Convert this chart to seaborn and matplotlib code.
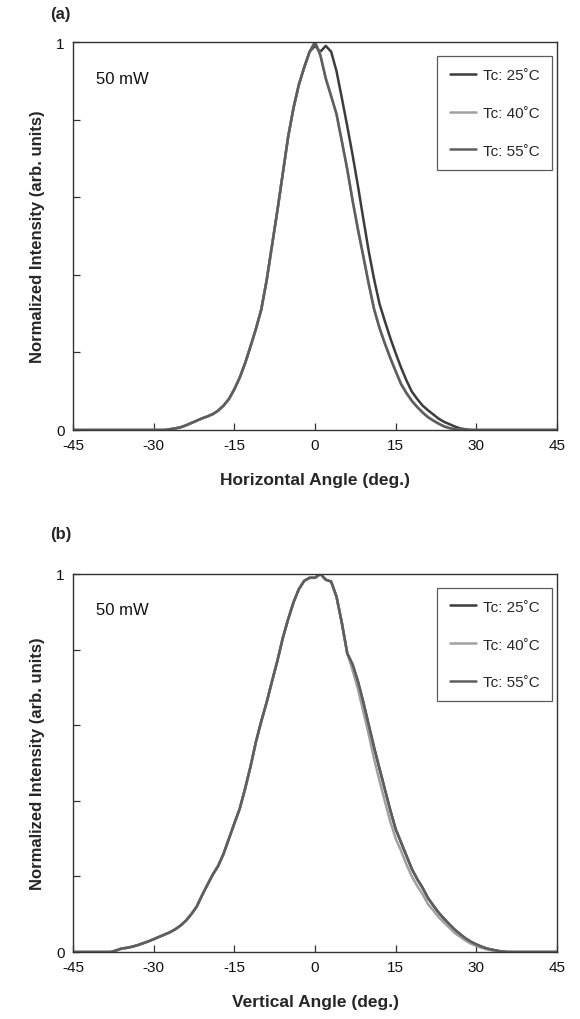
import numpy as np
import pandas as pd
import matplotlib
matplotlib.use("Agg")
import matplotlib.pyplot as plt
import seaborn as sns

# ---------------- data ----------------
angles = list(range(-45, 46))  # degrees, 1-degree steps

zeros = lambda n: [0.0] * n

# Panel (a): horizontal far-field, left side shared by all three curves
h_left = [0.0, 0.002, 0.004, 0.007, 0.012, 0.018, 0.024, 0.030, 0.035, 0.041,
          0.050, 0.063, 0.080, 0.105, 0.135, 0.172, 0.215, 0.260, 0.310, 0.385,
          0.475, 0.565, 0.660, 0.755, 0.830, 0.890, 0.935, 0.975]          # -28 .. -1
h25_right = [0.990, 0.975, 0.990, 0.975, 0.925, 0.855, 0.783, 0.708, 0.628, 0.543,
             0.460, 0.388, 0.325, 0.280, 0.237, 0.198, 0.161, 0.128, 0.099, 0.080,
             0.063, 0.051, 0.040, 0.029, 0.021, 0.015, 0.009, 0.004, 0.002, 0.0]  # 0 .. 29
h40_right = [1.000, 0.968, 0.908, 0.862, 0.812, 0.745, 0.673, 0.592, 0.518, 0.448,
             0.378, 0.312, 0.264, 0.224, 0.187, 0.152, 0.120, 0.096, 0.076, 0.060,
             0.046, 0.034, 0.025, 0.017, 0.010, 0.005, 0.002, 0.0, 0.0, 0.0]      # 0 .. 29
h55_right = [1.000, 0.965, 0.905, 0.860, 0.815, 0.743, 0.671, 0.590, 0.515, 0.446,
             0.375, 0.310, 0.262, 0.222, 0.185, 0.151, 0.118, 0.095, 0.075, 0.059,
             0.045, 0.033, 0.024, 0.016, 0.009, 0.005, 0.002, 0.0, 0.0, 0.0]      # 0 .. 29

h25 = zeros(17) + h_left + h25_right + zeros(16)
h40 = zeros(17) + h_left + h40_right + zeros(16)
h55 = zeros(17) + h_left + h55_right + zeros(16)

# Panel (b): vertical far-field
v_left = [0.0, 0.004, 0.009, 0.011, 0.014, 0.018, 0.023, 0.028, 0.034, 0.040,
          0.046, 0.052, 0.060, 0.070, 0.083, 0.100, 0.120, 0.150, 0.178, 0.205,
          0.228, 0.260, 0.300, 0.340, 0.379, 0.432, 0.490, 0.555, 0.610, 0.660,
          0.716, 0.770, 0.830, 0.880, 0.925, 0.960, 0.982, 0.990]           # -38 .. -1
v_inner = [0.990, 1.000, 0.985, 0.980, 0.940, 0.870, 0.790, 0.745, 0.695, 0.635,
           0.575, 0.510, 0.453, 0.398, 0.345, 0.300, 0.268, 0.232, 0.200, 0.175,
           0.153, 0.127, 0.110, 0.092, 0.078, 0.064, 0.050, 0.040, 0.030, 0.022,
           0.016, 0.011, 0.007, 0.004, 0.002, 0.0, 0.0]                     # 0 .. 36
v_outer = [0.990, 1.000, 0.985, 0.980, 0.940, 0.870, 0.790, 0.760, 0.715, 0.660,
           0.600, 0.540, 0.485, 0.430, 0.375, 0.325, 0.290, 0.255, 0.220, 0.193,
           0.170, 0.143, 0.123, 0.104, 0.088, 0.073, 0.059, 0.047, 0.036, 0.027,
           0.020, 0.014, 0.009, 0.006, 0.003, 0.001, 0.0]                   # 0 .. 36

v25 = zeros(7) + v_left + v_outer + zeros(9)
v40 = zeros(7) + v_left + v_inner + zeros(9)
v55 = zeros(7) + v_left + v_outer + zeros(9)

labels = ["Tc: 25˚C", "Tc: 40˚C", "Tc: 55˚C"]
colors = ["#3c3c3c", "#a0a0a0", "#5e5e5e"]
x_ticks = [-45, -30, -15, 0, 15, 30, 45]

# ---------------- figure ----------------
sns.set_theme(style="white")
plt.rcParams["font.family"] = ["Liberation Sans", "DejaVu Sans"]

W, H = 580, 1020
fig = plt.figure(figsize=(W / 100, H / 100), dpi=100)


def make_axes(left, top, right, bottom):
    return fig.add_axes([left / W, 1 - bottom / H, (right - left) / W, (bottom - top) / H])


ax_a = make_axes(73, 43, 557, 431)
ax_b = make_axes(73, 575, 557, 953)


def draw(ax, series, xlabel):
    frames = []
    for lab, vals in zip(labels, series):
        frames.append(pd.DataFrame({"angle": angles, "intensity": vals, "Tc": lab}))
    df = pd.concat(frames, ignore_index=True)
    sns.lineplot(data=df, x="angle", y="intensity", hue="Tc",
                 palette=dict(zip(labels, colors)), linewidth=1.8, ax=ax,
                 legend=True)
    ax.set_xlim(-45, 45)
    ax.set_ylim(0, 1)
    ax.set_xticks(x_ticks)
    ax.set_xticklabels([str(t) for t in x_ticks], fontsize=11)
    ax.set_yticks([0, 1])
    ax.set_yticklabels(["0", "1"], fontsize=11)
    ax.set_yticks([0.2, 0.4, 0.6, 0.8], minor=True)
    ax.tick_params(axis="both", which="both", direction="in", length=5,
                   width=0.9, color="#333333", labelcolor="#111111", pad=6)
    ax.tick_params(axis="y", which="both", left=True)
    ax.tick_params(axis="x", which="both", bottom=True)
    for sp in ax.spines.values():
        sp.set_color("#333333")
        sp.set_linewidth(1.0)
    ax.set_xlabel(xlabel, fontsize=12.5, fontweight="bold", labelpad=14)
    ax.set_ylabel("Normalized Intensity (arb. units)", fontsize=12,
                  fontweight="bold", labelpad=8)
    ax.text(-40.7, 0.905, "50 mW", fontsize=12, ha="left", va="center",
            color="#111111")
    leg = ax.legend(loc="upper right", bbox_to_anchor=(0.99, 0.964), fontsize=11,
                    frameon=True, fancybox=False, labelspacing=1.55,
                    handlelength=1.7, handletextpad=0.5, borderpad=0.8,
                    borderaxespad=0.0, edgecolor="#333333", title=None)
    leg.get_frame().set_linewidth(0.9)


draw(ax_a, [h25, h40, h55], "Horizontal Angle (deg.)")
draw(ax_b, [v25, v40, v55], "Vertical Angle (deg.)")

fig.text(50 / W, 1 - 15 / H, "(a)", fontsize=12, fontweight="bold",
         ha="left", va="center")
fig.text(50 / W, 1 - 535 / H, "(b)", fontsize=12, fontweight="bold",
         ha="left", va="center")

fig.savefig("out.png", dpi=100, facecolor="white")
